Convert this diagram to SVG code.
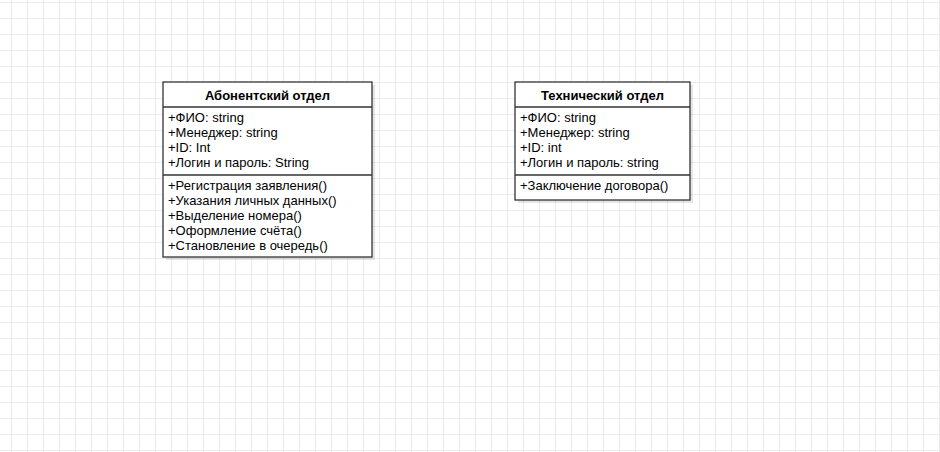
<svg xmlns="http://www.w3.org/2000/svg" width="940" height="452" viewBox="0 0 940 452">
<style>
.box{fill:#fff;stroke:#333;stroke-width:1.3}
.sep{stroke:#333;stroke-width:1.3;fill:none}
.shadow{fill:#000;opacity:0.1}
.t{font-family:"Liberation Sans",Arial,Helvetica,sans-serif;font-size:13px;fill:#000}
.h{font-family:"Liberation Sans",Arial,Helvetica,sans-serif;font-size:13px;font-weight:bold;fill:#000;text-anchor:middle}
</style>
<defs>
<pattern id="grid" patternUnits="userSpaceOnUse" x="11" y="2" width="16" height="16">
<path d="M0.5 0V16M0 0.5H16" stroke="#ebebeb" stroke-width="1" fill="none"/>
</pattern>
</defs>
<rect width="940" height="452" fill="#fff"/>
<rect width="940" height="452" fill="url(#grid)"/>
<g id="connectors"></g>
<g id="abonent">
<rect class="shadow" x="166" y="85" width="209" height="175"/>
<rect class="box" x="163" y="82" width="209" height="175"/>
<line class="sep" x1="163" y1="107" x2="372" y2="107"/>
<line class="sep" x1="163" y1="175" x2="372" y2="175"/>
<text class="h" x="267.5" y="99.5">Абонентский отдел</text>
<text class="t" x="168" y="121.5">+ФИО: string</text>
<text class="t" x="168" y="136.5">+Менеджер: string</text>
<text class="t" x="168" y="151.5">+ID: Int</text>
<text class="t" x="168" y="166.5">+Логин и пароль: String</text>
<text class="t" x="168" y="189.5">+Регистрация заявления()</text>
<text class="t" x="168" y="204.5">+Указания личных данных()</text>
<text class="t" x="168" y="219.5">+Выделение номера()</text>
<text class="t" x="168" y="234.5">+Оформление счёта()</text>
<text class="t" x="168" y="249.5">+Становление в очередь()</text>
</g>
<g id="tech">
<rect class="shadow" x="518" y="85" width="175" height="118"/>
<rect class="box" x="515" y="82" width="175" height="118"/>
<line class="sep" x1="515" y1="107" x2="690" y2="107"/>
<line class="sep" x1="515" y1="175" x2="690" y2="175"/>
<text class="h" x="602.5" y="99.5">Технический отдел</text>
<text class="t" x="520" y="121.5">+ФИО: string</text>
<text class="t" x="520" y="136.5">+Менеджер: string</text>
<text class="t" x="520" y="151.5">+ID: int</text>
<text class="t" x="520" y="166.5">+Логин и пароль: string</text>
<text class="t" x="520" y="189.5">+Заключение договора()</text>
</g>
</svg>
